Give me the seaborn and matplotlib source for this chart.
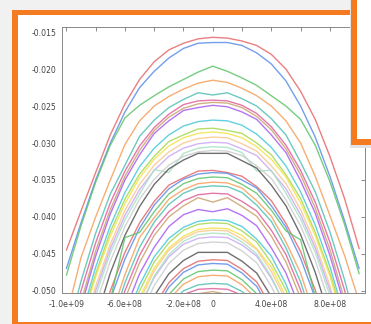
import numpy as np
import pandas as pd
import seaborn as sns
import matplotlib.pyplot as plt
from matplotlib.patches import Rectangle

# sample positions along x (same for every curve)
x_pos = [-1.0e9, -0.9e9, -0.8e9, -0.7e9, -0.6e9, -0.5e9, -0.4e9, -0.3e9, -0.2e9, -0.1e9, 0.0,
         0.1e9, 0.2e9, 0.3e9, 0.4e9, 0.5e9, 0.6e9, 0.7e9, 0.8e9, 0.9e9, 1.0e9]

# curves from top to bottom (values below -0.050 are clipped)
c01 = [-.0445, -.0392, -.0340, -.0289, -.0247, -.0214, -.0190, -.0174, -.0165, -.0159, -.0157,
       -.0158, -.0162, -.0168, -.0180, -.0200, -.0230, -.0268, -.0318, -.0375, -.0443]
c02 = [-.0470, -.0408, -.0350, -.0300, -.0258, -.0225, -.0203, -.0185, -.0172, -.0165, -.0164,
       -.0164, -.0168, -.0178, -.0193, -.0216, -.0250, -.0292, -.0345, -.0405, -.0470]
c03 = [-.0479, -.0412, -.0353, -.0303, -.0266, -.0249, -.0236, -.0224, -.0214, -.0204, -.0196,
       -.0203, -.0212, -.0222, -.0236, -.0250, -.0268, -.0303, -.0352, -.0410, -.0477]
c04 = [-.0535, -.0455, -.0400, -.0350, -.0302, -.0270, -.0250, -.0237, -.0227, -.0219, -.0215,
       -.0218, -.0226, -.0236, -.0250, -.0270, -.0300, -.0345, -.0398, -.0452, -.0515]
c05 = [-.0562, -.0487, -.0422, -.0369, -.0330, -.0291, -.0269, -.0252, -.0241, -.0232, -.0235,
       -.0232, -.0240, -.0250, -.0267, -.0289, -.0326, -.0366, -.0420, -.0485, -.0560]
c06 = [-.0578, -.0500, -.0435, -.0381, -.0338, -.0304, -.0279, -.0261, -.0248, -.0243, -.0242,
       -.0243, -.0249, -.0260, -.0278, -.0303, -.0337, -.0380, -.0434, -.0499, -.0576]
c07 = [-.0597, -.0515, -.0446, -.0390, -.0345, -.0310, -.0283, -.0265, -.0253, -.0247, -.0245,
       -.0246, -.0252, -.0264, -.0282, -.0308, -.0343, -.0388, -.0444, -.0512, -.0595]
c08 = [-.0605, -.0522, -.0453, -.0396, -.0350, -.0316, -.0287, -.0270, -.0256, -.0252, -.0249,
       -.0251, -.0258, -.0268, -.0289, -.0313, -.0351, -.0395, -.0452, -.0520, -.0603]
c09 = [-.0620, -.0536, -.0468, -.0412, -.0367, -.0332, -.0307, -.0289, -.0277, -.0271, -.0269,
       -.0270, -.0276, -.0288, -.0306, -.0331, -.0366, -.0411, -.0467, -.0535, -.0618]
c10 = [-.0630, -.0541, -.0477, -.0420, -.0376, -.0342, -.0318, -.0298, -.0289, -.0281, -.0280,
       -.0283, -.0287, -.0300, -.0316, -.0343, -.0375, -.0421, -.0476, -.0540, -.0628]
c11 = [-.0640, -.0548, -.0481, -.0426, -.0382, -.0347, -.0322, -.0304, -.0293, -.0287, -.0285,
       -.0287, -.0293, -.0305, -.0322, -.0346, -.0381, -.0425, -.0480, -.0547, -.0638]
c12 = [-.0650, -.0563, -.0494, -.0437, -.0391, -.0356, -.0330, -.0312, -.0300, -.0294, -.0292,
       -.0293, -.0301, -.0311, -.0331, -.0355, -.0390, -.0436, -.0493, -.0562, -.0648]
c13 = [-.0660, -.0569, -.0500, -.0443, -.0398, -.0363, -.0337, -.0318, -.0307, -.0301, -.0299,
       -.0300, -.0308, -.0317, -.0338, -.0362, -.0397, -.0442, -.0499, -.0568, -.0658]
c14 = [-.0670, -.0576, -.0507, -.0449, -.0404, -.0369, -.0336, -.0340, -.0314, -.0307, -.0305,
       -.0306, -.0313, -.0338, -.0337, -.0368, -.0403, -.0448, -.0506, -.0575, -.0668]
c15 = [-.0680, -.0590, -.0519, -.0460, -.0413, -.0376, -.0349, -.0330, -.0318, -.0312, -.0310,
       -.0311, -.0317, -.0331, -.0348, -.0377, -.0412, -.0459, -.0518, -.0589, -.0678]
c16 = [-.0690, -.0610, -.0540, -.0476, -.0425, -.0386, -.0356, -.0335, -.0323, -.0314, -.0314,
       -.0314, -.0324, -.0334, -.0357, -.0385, -.0424, -.0475, -.0538, -.0608, -.0688]
c17 = [-.0700, -.0630, -.0565, -.0500, -.0448, -.0408, -.0379, -.0357, -.0347, -.0338, -.0337,
       -.0340, -.0345, -.0359, -.0378, -.0409, -.0447, -.0499, -.0563, -.0628, -.0698]
c18 = [-.0710, -.0640, -.0580, -.0512, -.0457, -.0415, -.0384, -.0362, -.0349, -.0342, -.0340,
       -.0341, -.0350, -.0361, -.0385, -.0414, -.0456, -.0510, -.0578, -.0638, -.0708]
c19 = [-.0720, -.0650, -.0590, -.0512, -.0428, -.0421, -.0393, -.0369, -.0355, -.0348, -.0346,
       -.0347, -.0356, -.0368, -.0391, -.0419, -.0431, -.0508, -.0588, -.0648, -.0718]
c20 = [-.0730, -.0660, -.0600, -.0537, -.0478, -.0428, -.0401, -.0376, -.0363, -.0355, -.0353,
       -.0354, -.0361, -.0378, -.0399, -.0434, -.0476, -.0536, -.0598, -.0658, -.0728]
c21 = [-.0740, -.0670, -.0610, -.0551, -.0489, -.0441, -.0407, -.0383, -.0368, -.0360, -.0358,
       -.0359, -.0367, -.0384, -.0406, -.0442, -.0488, -.0550, -.0608, -.0668, -.0738]
c22 = [-.0750, -.0680, -.0620, -.0563, -.0500, -.0452, -.0417, -.0393, -.0378, -.0370, -.0368,
       -.0369, -.0379, -.0392, -.0418, -.0451, -.0499, -.0562, -.0618, -.0678, -.0748]
c23 = [-.0760, -.0690, -.0630, -.0570, -.0511, -.0462, -.0425, -.0400, -.0385, -.0374, -.0380,
       -.0374, -.0386, -.0399, -.0426, -.0461, -.0510, -.0568, -.0628, -.0688, -.0758]
c24 = [-.0770, -.0710, -.0650, -.0590, -.0527, -.0477, -.0441, -.0413, -.0397, -.0390, -.0393,
       -.0389, -.0398, -.0412, -.0442, -.0476, -.0526, -.0588, -.0648, -.0708, -.0768]
c25 = [-.0780, -.0720, -.0660, -.0600, -.0542, -.0492, -.0454, -.0429, -.0414, -.0406, -.0404,
       -.0405, -.0413, -.0430, -.0453, -.0491, -.0541, -.0598, -.0658, -.0718, -.0778]
c26 = [-.0790, -.0730, -.0670, -.0610, -.0554, -.0500, -.0461, -.0435, -.0418, -.0410, -.0408,
       -.0409, -.0419, -.0434, -.0462, -.0499, -.0553, -.0608, -.0668, -.0728, -.0788]
c27 = [-.0800, -.0750, -.0690, -.0630, -.0570, -.0509, -.0469, -.0442, -.0426, -.0417, -.0415,
       -.0416, -.0425, -.0443, -.0468, -.0508, -.0568, -.0628, -.0688, -.0748, -.0798]
c28 = [-.0805, -.0755, -.0695, -.0635, -.0575, -.0514, -.0473, -.0445, -.0429, -.0420, -.0418,
       -.0419, -.0430, -.0444, -.0474, -.0513, -.0573, -.0633, -.0693, -.0753, -.0803]
c29 = [-.0810, -.0760, -.0700, -.0640, -.0580, -.0522, -.0482, -.0454, -.0437, -.0429, -.0427,
       -.0428, -.0438, -.0453, -.0483, -.0521, -.0578, -.0638, -.0698, -.0758, -.0808]
c30 = [-.0812, -.0762, -.0702, -.0642, -.0582, -.0524, -.0480, -.0451, -.0433, -.0424, -.0422,
       -.0423, -.0434, -.0450, -.0481, -.0523, -.0580, -.0640, -.0700, -.0760, -.0810]
c31 = [-.0820, -.0770, -.0710, -.0650, -.0590, -.0536, -.0493, -.0463, -.0445, -.0436, -.0434,
       -.0435, -.0446, -.0462, -.0494, -.0535, -.0588, -.0648, -.0708, -.0768, -.0818]
c32 = [-.0840, -.0790, -.0730, -.0670, -.0610, -.0560, -.0507, -.0477, -.0459, -.0448, -.0448,
       -.0448, -.0460, -.0476, -.0508, -.0558, -.0608, -.0668, -.0728, -.0788, -.0838]
c33 = [-.0860, -.0800, -.0740, -.0680, -.0620, -.0570, -.0521, -.0489, -.0470, -.0460, -.0458,
       -.0459, -.0471, -.0488, -.0522, -.0568, -.0618, -.0678, -.0738, -.0798, -.0858]
c34 = [-.0870, -.0810, -.0750, -.0690, -.0630, -.0580, -.0528, -.0495, -.0475, -.0465, -.0463,
       -.0464, -.0476, -.0494, -.0529, -.0578, -.0628, -.0688, -.0748, -.0808, -.0868]
c35 = [-.0880, -.0830, -.0770, -.0710, -.0650, -.0600, -.0550, -.0505, -.0484, -.0474, -.0472,
       -.0473, -.0485, -.0504, -.0548, -.0598, -.0648, -.0708, -.0768, -.0828, -.0878]
c36 = [-.0890, -.0840, -.0780, -.0720, -.0660, -.0610, -.0560, -.0512, -.0491, -.0481, -.0479,
       -.0480, -.0492, -.0511, -.0558, -.0608, -.0658, -.0718, -.0778, -.0838, -.0888]
c37 = [-.0900, -.0850, -.0790, -.0730, -.0670, -.0610, -.0560, -.0518, -.0500, -.0492, -.0490,
       -.0491, -.0501, -.0517, -.0562, -.0612, -.0668, -.0728, -.0788, -.0848, -.0898]
c38 = [-.0910, -.0860, -.0800, -.0740, -.0680, -.0620, -.0580, -.0540, -.0505, -.0498, -.0497,
       -.0498, -.0506, -.0542, -.0578, -.0618, -.0678, -.0738, -.0798, -.0858, -.0908]
c39 = [-.0920, -.0870, -.0810, -.0750, -.0690, -.0630, -.0590, -.0550, -.0515, -.0504, -.0501,
       -.0505, -.0516, -.0552, -.0588, -.0628, -.0688, -.0748, -.0808, -.0868, -.0918]

curves = [c01, c02, c03, c04, c05, c06, c07, c08, c09, c10, c11, c12, c13,
          c14, c15, c16, c17, c18, c19, c20, c21, c22, c23, c24, c25, c26,
          c27, c28, c29, c30, c31, c32, c33, c34, c35, c36, c37, c38, c39]

# colour cycle of the original (16 colours, repeats)
cycle = ['#e5686b', '#5b8ee6', '#5ec46a', '#f5a05c', '#52c0b4', '#e0609a',
         '#c9a26e', '#a85cf0', '#48c8dc', '#a8d850', '#f2e34a', '#f8c890',
         '#c9a8f5', '#a8e2c4', '#cccccc', '#555555']

x_ticks = [-1.0e9, -8.0e8, -6.0e8, -4.0e8, -2.0e8, 0.0, 2.0e8, 4.0e8, 6.0e8, 8.0e8, 1.0e9]
x_tick_labels = ['-1.0e+09', '', '-6.0e+08', '', '-2.0e+08', '0', '', '4.0e+08', '', '8.0e+08', '']
y_ticks = [-0.050, -0.045, -0.040, -0.035, -0.030, -0.025, -0.020, -0.015]
y_tick_labels = ['-0.050', '-0.045', '-0.040', '-0.035', '-0.030', '-0.025', '-0.020', '-0.015']

rows = []
for i, vals in enumerate(curves):
    for xv, yv in zip(x_pos, vals):
        rows.append({'curve': 'c%02d' % (i + 1), 'x': xv, 'v': yv})
df = pd.DataFrame(rows)
palette = [cycle[i % len(cycle)] for i in range(len(curves))]

sns.set_style('white')
plt.rcParams['font.family'] = ['DejaVu Sans']
plt.rcParams['axes.unicode_minus'] = False

W, H = 371, 324
fig = plt.figure(figsize=(W / 100, H / 100), dpi=100)
fig.patch.set_facecolor('#f1f1f1')


def px_rect(x0, y0, x1, y1, **kw):
    # rectangle given in pixel coords measured from the top-left corner
    return Rectangle((x0 / W, 1 - y1 / H), (x1 - x0) / W, (y1 - y0) / H,
                     transform=fig.transFigure, **kw)


# framed panel behind the plot
fig.add_artist(px_rect(14, 12, 380, 330, facecolor='#dddddd', edgecolor='none', zorder=-3))
fig.add_artist(px_rect(12, 10, 380, 330, facecolor='#f47b20', edgecolor='none', zorder=-2))
fig.add_artist(px_rect(18, 15, 380, 322, facecolor='white', edgecolor='none', zorder=-1))

ax = fig.add_axes([62 / W, 1 - 293 / H, (365 - 62) / W, (293 - 27) / H])
ax.set_facecolor('white')

sns.lineplot(data=df, x='x', y='v', hue='curve', palette=palette, legend=False,
             estimator=None, sort=False, linewidth=1.0, alpha=0.85, ax=ax)

ax.set_xlim(-1.03e9, 1.04e9)
ax.set_ylim(-0.0503, -0.0143)
ax.set_xticks(x_ticks)
ax.set_xticklabels(x_tick_labels)
ax.set_yticks(y_ticks)
ax.set_yticklabels(y_tick_labels)
ax.set_xlabel('')
ax.set_ylabel('')
ax.tick_params(axis='both', direction='out', length=2.5, width=0.6, color='#777777',
               labelsize=5.6, labelcolor='#444444', pad=1.5)
ax.tick_params(axis='x', pad=2.5)
for s in ax.spines.values():
    s.set_color('#888888')
    s.set_linewidth(0.7)

# inward ticks on top and right
top = ax.secondary_xaxis('top')
top.set_xticks(x_ticks)
top.set_xticklabels([])
top.tick_params(direction='in', length=3, width=0.6, color='#777777')
top.spines['top'].set_visible(False)
right = ax.secondary_yaxis('right')
right.set_yticks(y_ticks)
right.set_yticklabels([])
right.tick_params(direction='in', length=3, width=0.6, color='#777777')
right.spines['right'].set_visible(False)

# overlapping box at the top right
fig.add_artist(px_rect(350, 0, 371, 148, facecolor='#e2e2e2', edgecolor='none', zorder=8))
fig.add_artist(px_rect(351, 0, 371, 145, facecolor='#f47b20', edgecolor='none', zorder=9))
fig.add_artist(px_rect(357, 0, 371, 139, facecolor='white', edgecolor='none', zorder=10))

fig.savefig('out.png', dpi=100)
